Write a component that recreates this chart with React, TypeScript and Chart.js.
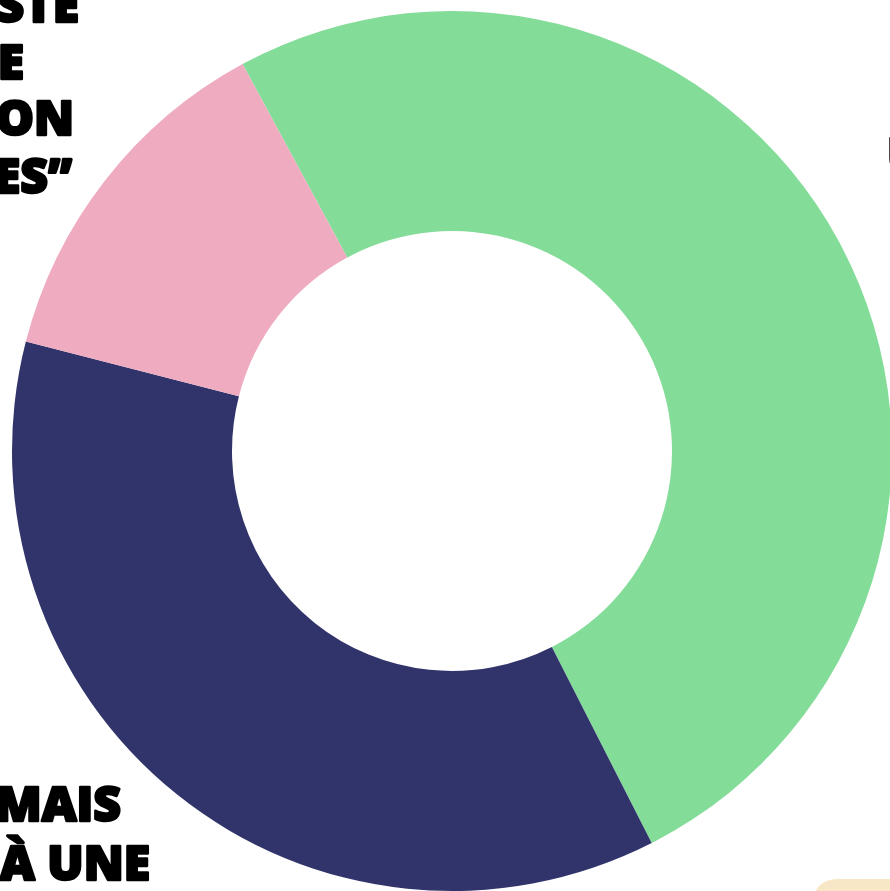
import React, { useEffect, useRef } from "react";
import { Chart, registerables } from "chart.js";

Chart.register(...registerables);

const categories = ["…U…", "…MAIS À UNE…", "…STE E ION ES”"];
const values = [50.4, 36.5, 13.1];
const colors = ["#84DC99", "#31346B", "#EFABC0"];

// visible fragments of the outside labels (cropped in the reference)
const labelTopLeft = ["STE", "E", "ION", "ES”"];
const labelBottomLeft = ["MAIS", "À UNE"];
const labelRight = ["U"];

const FONT = "800 48px 'Open Sans', sans-serif";

const textPlugin = {
  id: "outsideText",
  afterDraw(chart: any) {
    const ctx = chart.ctx as CanvasRenderingContext2D;
    ctx.save();
    // beige rounded card at bottom right
    ctx.fillStyle = "#F7E7C6";
    const x = 813, y = 879, w = 200, h = 100, r = 26;
    ctx.beginPath();
    ctx.moveTo(x + r, y);
    ctx.lineTo(x + w, y);
    ctx.lineTo(x + w, y + h);
    ctx.lineTo(x, y + h);
    ctx.lineTo(x, y + r);
    ctx.quadraticCurveTo(x, y, x + r, y);
    ctx.fill();

    ctx.fillStyle = "#000000";
    ctx.strokeStyle = "#000000";
    ctx.lineWidth = 2.5;
    ctx.lineJoin = "round";
    ctx.font = FONT;
    ctx.textBaseline = "alphabetic";
    const draw = (t: string, px: number, py: number) => {
      ctx.strokeText(t, px, py);
      ctx.fillText(t, px, py);
    };
    ctx.textAlign = "right";
    const tlRight = [79, 24, 74, 72];
    const tlBase = [22, 79, 135, 193];
    labelTopLeft.forEach((t, i) => draw(t, tlRight[i], tlBase[i]));
    const blRight = [121, 150];
    const blBase = [821, 880];
    labelBottomLeft.forEach((t, i) => draw(t, blRight[i], blBase[i]));
    ctx.textAlign = "left";
    labelRight.forEach((t) => draw(t, 887, 172));
    ctx.restore();
  },
};

export default function App() {
  const ref = useRef<HTMLCanvasElement | null>(null);
  useEffect(() => {
    document.body.style.margin = "0";
    document.body.style.overflow = "hidden";
    const chart = new Chart(ref.current!, {
      type: "doughnut",
      data: {
        labels: categories,
        datasets: [
          {
            data: values,
            backgroundColor: colors,
            borderWidth: 0,
          },
        ],
      },
      options: {
        responsive: false,
        animation: false,
        rotation: -28.43,
        cutout: "50%",
        layout: { padding: { left: 12, top: 11, right: 8, bottom: 9 } },
        plugins: {
          legend: { display: false },
          tooltip: { enabled: false },
        },
      },
      plugins: [textPlugin],
    });
    return () => chart.destroy();
  }, []);
  return (
    <div
      style={{
        position: "fixed",
        left: 0,
        top: 0,
        width: 890,
        height: 891,
        overflow: "hidden",
        background: "#ffffff",
      }}
    >
      <canvas ref={ref} width={900} height={900} style={{ width: 900, height: 900, display: "block" }} />
    </div>
  );
}
